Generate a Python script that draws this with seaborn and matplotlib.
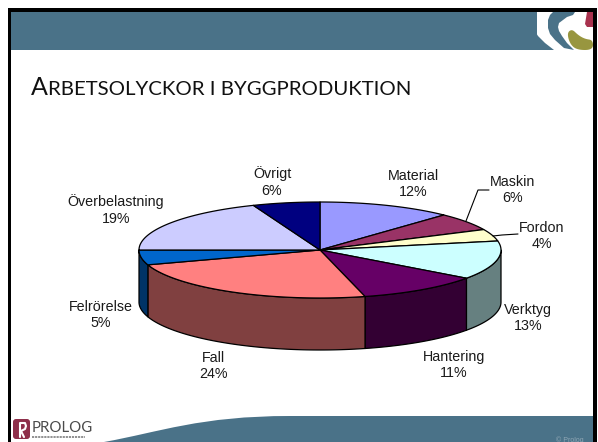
import numpy as np
import matplotlib
matplotlib.use("Agg")
import matplotlib.pyplot as plt
from matplotlib.patches import PathPatch, Rectangle, FancyBboxPatch
from matplotlib.path import Path
import seaborn as sns

categories = ["Material", "Maskin", "Fordon", "Verktyg", "Hantering", "Fall", "Felrörelse", "Överbelastning", "Övrigt"]
shares = [12, 6, 4, 13, 11, 24, 5, 19, 6]
top_colors = ["#9999FF", "#993366", "#FFFFCC", "#CCFFFF", "#660066", "#FF8080", "#0066CC", "#CCCCFF", "#000080"]
side_colors = ["#4D4D80", "#4D1A33", "#808066", "#668080", "#330033", "#804040", "#003366", "#666680", "#000040"]
label_x = [413, 513, 542, 528, 454, 213, 101, 116, 272]
label_y = [184, 190, 236, 318, 365, 366, 315, 210, 182]

sns.set_theme(style="white")
plt.rcParams["font.family"] = ["Liberation Sans", "DejaVu Sans"]

BAND = "#4A7288"
fig = plt.figure(figsize=(5.98, 4.42), dpi=100, facecolor="white")
ax = fig.add_axes([0, 0, 1, 1])
ax.set_xlim(0, 598)
ax.set_ylim(442, 0)
ax.axis("off")

def shape(pts, color, z=2):
    v = np.array(pts, float)
    tt = np.linspace(0, 1, 12)
    out = []
    n = len(v)
    for i in range(n):
        a, b, c = v[i - 1], v[i], v[(i + 1) % n]
        p0, p2 = (a + b) / 2, (b + c) / 2
        for t in tt:
            out.append((1 - t) ** 2 * p0 + 2 * t * (1 - t) * b + t ** 2 * p2)
    ax.fill(*np.array(out).T, color=color, lw=0, zorder=z)

# slide frame and bands
ax.add_patch(Rectangle((11, 12), 582, 38, color=BAND, lw=0, zorder=1))
curve = Path([(104, 442), (160, 432), (200, 416), (290, 416), (593, 416), (593, 442), (104, 442)],
             [Path.MOVETO, Path.CURVE4, Path.CURVE4, Path.CURVE4, Path.LINETO, Path.LINETO, Path.CLOSEPOLY])
ax.add_patch(PathPatch(curve, facecolor=BAND, lw=0, zorder=1))
ax.add_patch(Rectangle((8, 8), 589, 4, color="black", lw=0, zorder=6))
ax.add_patch(Rectangle((8, 8), 3, 434, color="black", lw=0, zorder=6))
ax.add_patch(Rectangle((593, 8), 4, 434, color="black", lw=0, zorder=6))

# top-right swirl
ax.add_patch(Rectangle((537, 12), 56, 38, color="white", lw=0, zorder=2))
ax.fill([530, 537, 535, 532, 533, 538, 545, 554, 530], [12, 12, 16, 21, 28, 36, 43, 50, 50],
        color=BAND, lw=0, zorder=2)
ax.fill([553, 575, 573, 567, 563, 559, 558, 559, 562, 567, 574, 564, 555, 550, 548, 548, 550],
        [12, 12, 15, 17, 20, 23, 27, 31, 36, 43, 50, 48, 40, 34, 28, 20, 15], color=BAND, lw=0, zorder=3)
shape([(567, 33), (572, 29), (578, 35), (585, 39), (593, 40), (593, 50), (577, 50), (570, 44)], "#98963F", 3)
ax.fill([587, 593, 593, 587, 585, 586], [12, 12, 27, 27, 24, 18], color="#A8324E", lw=0, zorder=3)

# PROLOG logo
ax.add_patch(FancyBboxPatch((13, 419), 17, 20, boxstyle="round,pad=0,rounding_size=3",
                            color="#8E2F4A", lw=0, zorder=3))
ax.plot([20, 20, 25, 26, 25, 21, 24], [437, 423, 423, 426, 429, 431, 437], color="white", lw=1.5, zorder=4)
ax.text(32, 432, "PROLOG", fontsize=10.8, family="Lato", color="#4B4B4B", va="baseline", ha="left")
ax.plot([32, 85], [437, 437], color="#888888", lw=1.3, ls=(0, (1.2, 0.5)), zorder=3)
ax.text(556, 441.5, "© Prolog", fontsize=5, color="#8FA6B4", va="baseline", ha="left", zorder=4)

# title
ax.text(31, 95, "A", fontsize=18, family="Lato", color="#111111", va="baseline")
ax.text(48.5, 95, "RBETSOLYCKOR I BYGGPRODUKTION", fontsize=14.7, family="Lato", color="#111111", va="baseline")

# 3-D pie, drawn from the shares
cx, cy, rx, ry, depth = 320, 250, 181, 48, 52
edges = np.cumsum([0] + shares) / sum(shares) * 360

def pt(deg):
    r = np.radians(deg)
    return cx + rx * np.sin(r), cy - ry * np.cos(r)

for i, (a, b) in enumerate(zip(edges[:-1], edges[1:])):
    lo, hi = max(a, 90), min(b, 270)
    if lo < hi:
        t = np.linspace(lo, hi, 80)
        x, y = pt(t)
        ax.fill(np.r_[x, x[::-1]], np.r_[y, y[::-1] + depth], facecolor=side_colors[i],
                edgecolor="black", lw=0.9, zorder=10, joinstyle="round")
for i, (a, b) in enumerate(zip(edges[:-1], edges[1:])):
    t = np.linspace(a, b, 80)
    x, y = pt(t)
    ax.fill(np.r_[cx, x], np.r_[cy, y], facecolor=top_colors[i], edgecolor="black",
            lw=0.9, zorder=11, joinstyle="round")

# labels
for name, s, lx, ly in zip(categories, shares, label_x, label_y):
    ax.text(lx, ly, f"{name}\n{s}%", fontsize=10.3, color="#1A1A1A", ha="center", va="center",
            linespacing=1.27, zorder=12)

# leader lines
ax.plot([466, 478, 489], [221, 190, 190], color="black", lw=0.8, zorder=12)
ax.plot([493, 502, 518], [236, 235, 234], color="black", lw=0.8, zorder=12)

fig.savefig("out.png", dpi=100, facecolor="white")
